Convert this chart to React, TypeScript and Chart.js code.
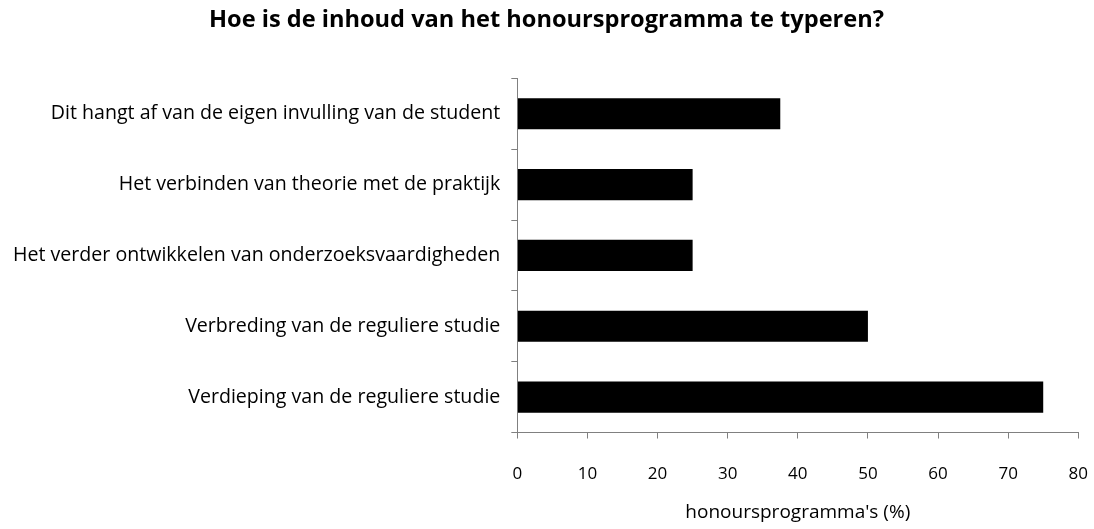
import React, { useEffect, useRef } from "react";
import { Chart, registerables } from "chart.js";

Chart.register(...registerables);

const categories = [
  "Dit hangt af van de eigen invulling van de student",
  "Het verbinden van theorie met de praktijk",
  "Het verder ontwikkelen van onderzoeksvaardigheden",
  "Verbreding van de reguliere studie",
  "Verdieping van de reguliere studie",
];
const values = [37.5, 25, 25, 50, 75];
const titleText = "Hoe is de inhoud van het honoursprogramma te typeren?";
const xTitle = "honoursprogramma's (%)";

export default function App() {
  const ref = useRef<HTMLCanvasElement>(null);
  useEffect(() => {
    if (!ref.current) return;
    const chart = new Chart(ref.current, {
      type: "bar",
      data: {
        labels: categories,
        datasets: [
          {
            data: values,
            backgroundColor: "#000000",
            borderColor: "#000000",
            borderWidth: 0,
            barPercentage: 0.44,
            categoryPercentage: 1,
          },
        ],
      },
      options: {
        indexAxis: "y",
        animation: false,
        responsive: false,
        maintainAspectRatio: false,
        layout: { padding: { left: 2, right: 3, top: 6, bottom: 6.5 } },
        plugins: {
          legend: { display: false },
          tooltip: { enabled: false },
          title: {
            display: true,
            text: titleText,
            color: "#000",
            font: { family: "Open Sans", size: 23.6, weight: "bold", lineHeight: 1.2 },
            padding: { top: 0, bottom: 44 },
          },
        },
        scales: {
          x: {
            min: 0,
            max: 80,
            ticks: {
              stepSize: 10,
              color: "#000",
              font: { family: "Open Sans", size: 17, lineHeight: 3.53 },
              padding: 6,
            },
            grid: {
              drawOnChartArea: false,
              drawTicks: true,
              tickLength: 6,
              color: "#808080",
            },
            border: { display: true, color: "#808080", width: 1 },
            title: {
              display: true,
              text: xTitle,
              color: "#000",
              font: { family: "Open Sans", size: 19, lineHeight: 1.05 },
              padding: { top: -8, bottom: 0 },
            },
          },
          y: {
            ticks: {
              color: "#000",
              font: { family: "Open Sans", size: 19.6 },
              padding: 11,
            },
            grid: {
              drawOnChartArea: false,
              drawTicks: true,
              tickLength: 6,
              offset: true,
              color: "#808080",
            },
            border: { display: true, color: "#808080", width: 1 },
          },
        },
      },
    });
    return () => chart.destroy();
  }, []);
  return (
    <div style={{ position: "absolute", left: 0, top: 0, width: 1094, height: 529, background: "#fff" }}>
      <canvas ref={ref} width={1094} height={529} style={{ width: 1094, height: 529 }} />
    </div>
  );
}
